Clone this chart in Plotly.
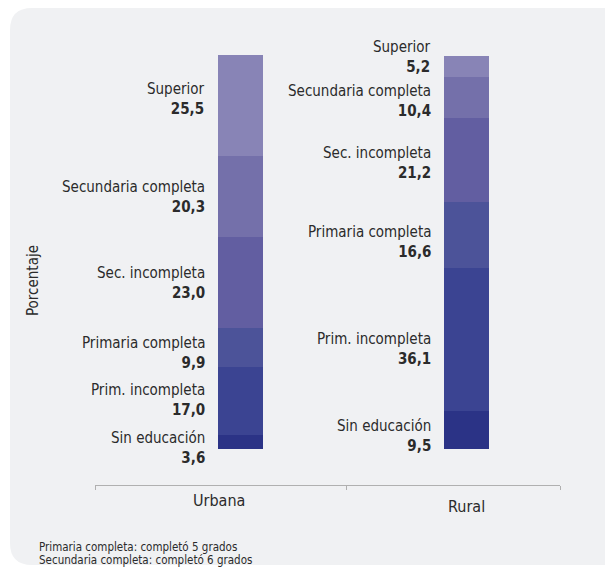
import plotly.graph_objects as go
import numpy as np

# ---------------- data ----------------
areas = ["Urbana", "Rural"]
levels = ["Sin educación", "Prim. incompleta", "Primaria completa",
          "Sec. incompleta", "Secundaria completa", "Superior"]
urbana = [3.6, 17.0, 9.9, 23.0, 20.3, 25.5]
rural = [9.5, 36.1, 16.6, 21.2, 10.4, 5.2]
footnotes = ["Primaria completa: completó 5 grados",
             "Secundaria completa: completó 6 grados"]
y_title = "Porcentaje"

# ---------------- style ----------------
colors = ["#2b3386", "#3b4492", "#4c5399", "#625ea1", "#7470aa", "#8884b6"]
FONT = "DejaVu Sans Condensed, Roboto, sans-serif"
OFF = 8                       # page body margin
W, H = 613 - OFF, 568 - OFF   # figure size


def px(x):
    return (x - OFF) / W


def py(y):
    return 1 - (y - OFF) / H


bar_x = {"Urbana": 0.624, "Rural": 1.596}
bar_w = 0.194
label_shift = {"Urbana": [-6, 1, -5, -1, -1, 6],
               "Rural": [-6, -9, -7, -3, -4, 9]}
cat_label_pos = {"Urbana": (219, 500), "Rural": (466, 506)}

series = {"Urbana": urbana, "Rural": rural}

fig = go.Figure()
for i, lvl in enumerate(levels):
    fig.add_trace(go.Bar(
        x=[bar_x[a] for a in areas],
        y=[series[a][i] for a in areas],
        width=bar_w,
        marker=dict(color=colors[i], line=dict(width=0)),
        name=lvl, showlegend=False, hoverinfo="skip"))

annotations = []
for a in areas:
    vals = series[a]
    cum = np.cumsum([0] + vals)
    for i, lvl in enumerate(levels):
        center = (cum[i] + cum[i + 1]) / 2
        txt = f"{lvl}<br><b>{str(vals[i]).replace('.', ',')}</b>"
        annotations.append(dict(
            x=bar_x[a], y=center, xref="x", yref="y",
            text=txt, showarrow=False, xanchor="right", yanchor="middle",
            align="right", xshift=-33, yshift=label_shift[a][i],
            font=dict(family=FONT, size=15, color="#2b2b2b")))
    cx, cy = cat_label_pos[a]
    annotations.append(dict(
        x=px(cx), y=py(cy), xref="paper", yref="paper", text=a,
        showarrow=False, xanchor="center", yanchor="middle",
        font=dict(family=FONT, size=16, color="#2b2b2b")))

annotations.append(dict(
    x=px(33), y=py(281), xref="paper", yref="paper", text=y_title,
    textangle=-90, showarrow=False, xanchor="center", yanchor="middle",
    font=dict(family=FONT, size=15, color="#2b2b2b")))
for k, t in enumerate(footnotes):
    annotations.append(dict(
        x=px(37), y=py(547 + 13 * k), xref="paper", yref="paper", text=t,
        showarrow=False, xanchor="left", yanchor="middle",
        font=dict(family=FONT, size=11.5, color="#2b2b2b")))


# rounded background panel (pixel -> paper)
def P(x, y):
    return f"{px(x):.5f},{py(y):.5f}"


x0, y0, x1, y1, r = 10, 8, 630, 565, 22
path = (f"M {P(x0 + r, y0)} L {P(x1 - r, y0)} Q {P(x1, y0)} {P(x1, y0 + r)} "
        f"L {P(x1, y1 - r)} Q {P(x1, y1)} {P(x1 - r, y1)} "
        f"L {P(x0 + r, y1)} Q {P(x0, y1)} {P(x0, y1 - r)} "
        f"L {P(x0, y0 + r)} Q {P(x0, y0)} {P(x0 + r, y0)} Z")

y_bottom = -(485 - 449) / ((449 - 52) / 100)

fig.update_layout(
    width=W, height=H, margin=dict(l=0, r=0, t=0, b=0),
    paper_bgcolor="white", plot_bgcolor="rgba(0,0,0,0)",
    barmode="stack", bargap=0,
    shapes=[dict(type="path", path=path, xref="paper", yref="paper",
                 fillcolor="#f0f1f3", line=dict(width=0), layer="below")],
    annotations=annotations,
    xaxis=dict(domain=[px(95), px(560)], range=[0, 2], showgrid=False,
               zeroline=False, showline=True, linecolor="#b0b0b0", linewidth=1,
               ticks="outside", ticklen=4, tickcolor="#b0b0b0",
               tickvals=[0, 1.08, 2], showticklabels=False, fixedrange=True),
    yaxis=dict(domain=[py(485), py(52)], range=[y_bottom, 100],
               showgrid=False, zeroline=False, showline=False,
               showticklabels=False, fixedrange=True),
)

fig.write_html("out.html")
